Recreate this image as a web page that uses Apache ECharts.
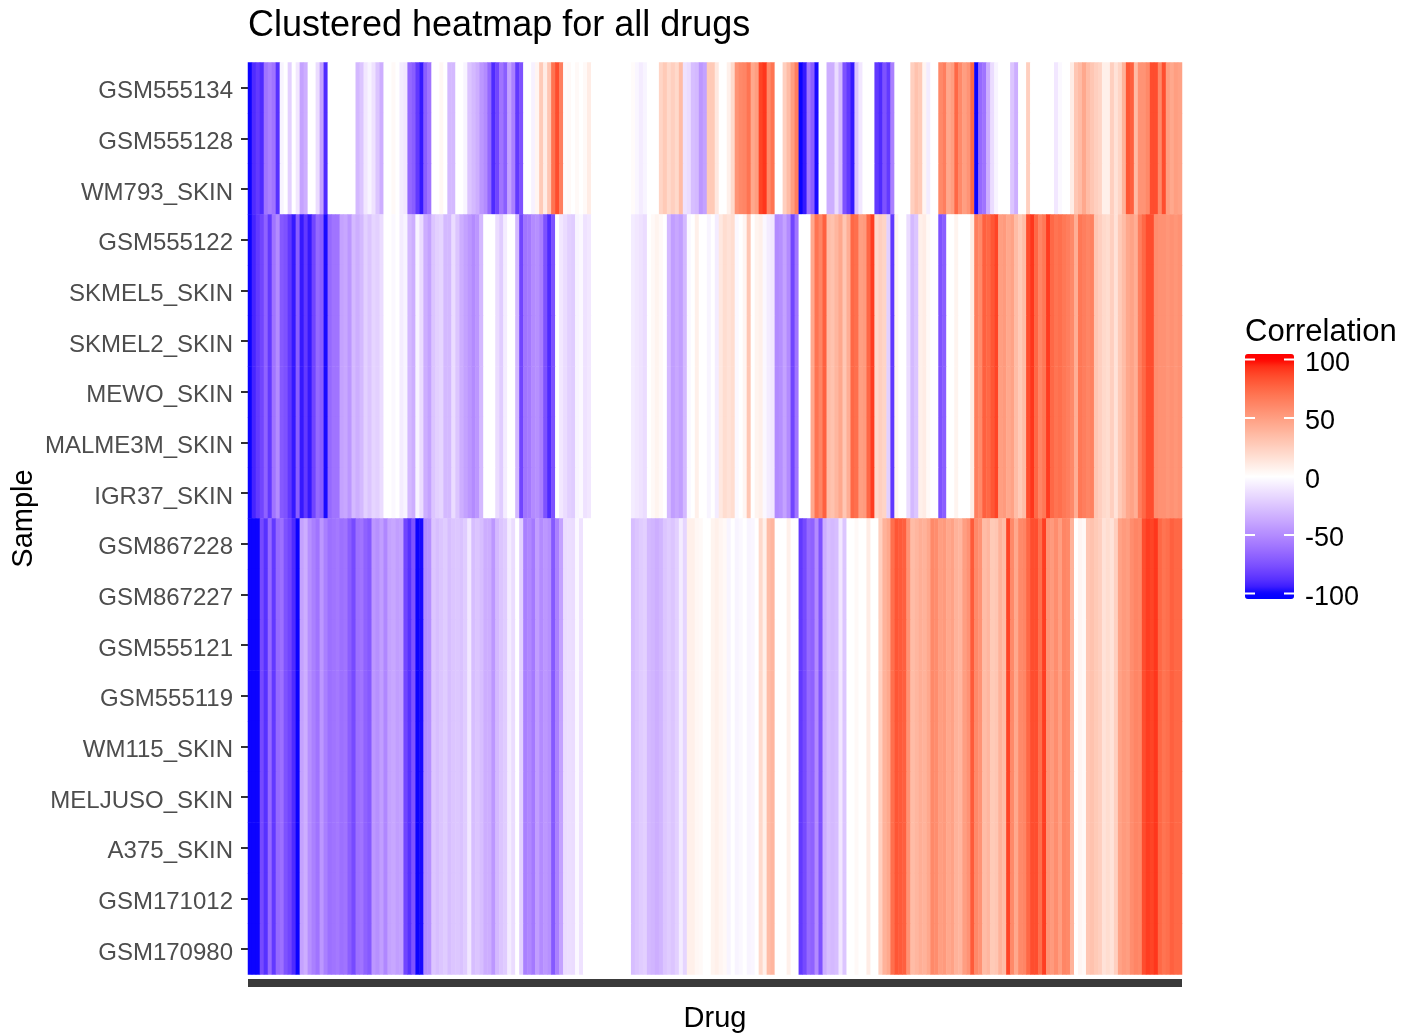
<!DOCTYPE html>
<html>
<head>
<meta charset="utf-8">
<style>html,body{margin:0;padding:0;background:#fff}#c{width:1406px;height:1036px}</style>
<script src="https://cdn.jsdelivr.net/npm/echarts@6/dist/echarts.min.js"></script>
</head>
<body>
<div id="c"></div>
<script>
const samples = ['GSM555134','GSM555128','WM793_SKIN','GSM555122','SKMEL5_SKIN','SKMEL2_SKIN','MEWO_SKIN','MALME3M_SKIN','IGR37_SKIN','GSM867228','GSM867227','GSM555121','GSM555119','WM115_SKIN','MELJUSO_SKIN','A375_SKIN','GSM171012','GSM170980'];
const rowCluster = [0,0,0,1,1,1,1,1,1,2,2,2,2,2,2,2,2,2];
const legendTicks = [-100,-50,0,50,100];

const cluster1 = [
-100,-90,-85,-90,-60,-55,-60,-88,-5,0,
-20,0,-10,-40,-35,0,0,-15,-40,-90,
0,0,0,0,0,0,0,-30,-25,-10,
-5,-12,-25,-35,0,0,3,0,-8,-10,
-65,-70,-85,-95,-70,-60,0,0,4,0,
-30,-30,0,0,-5,-25,-30,-35,-45,-50,
-65,-90,-80,-60,-70,-40,-55,-85,-75,0,
0,-6,5,28,10,30,70,85,65,2,
3,0,3,0,3,10,0,0,0,0,
0,0,0,0,0,0,2,-4,-8,-5,
0,0,0,22,28,20,25,20,35,-12,
-15,-28,-30,-45,-40,28,28,12,0,0,
8,20,55,60,62,70,45,50,88,92,
60,70,0,0,25,35,50,65,-100,-95,
-60,-70,-98,0,0,-35,-35,-15,-30,-75,
-85,-95,-25,-10,0,0,0,-85,-90,-75,
-85,-55,0,0,0,0,25,32,28,5,
-8,0,0,60,65,45,50,75,60,50,
55,75,-100,-65,-60,-35,-15,-5,0,0,
0,-25,-35,0,0,25,0,0,0,0,
0,0,-10,-3,0,0,10,30,35,45,
35,30,25,22,8,8,25,15,22,40,
82,78,35,55,55,60,85,85,60,85,
50,45,50,48];

const cluster2 = [
-100,-92,-85,-80,-68,-85,-60,-50,-72,-75,
-85,-95,-70,-95,-85,-95,-80,-65,-70,-98,
-65,-60,-60,-40,-38,-45,-30,-35,-30,-20,
-25,-18,-20,-15,0,0,-3,0,-8,-5,
-30,-35,-5,-15,-35,-40,-25,-20,-18,-30,
-30,-15,-25,-35,-40,-45,-50,-45,-30,0,
0,0,-15,-22,-8,0,0,-30,-80,-60,
-58,-50,-48,-55,-75,-90,-75,0,-10,-15,
-20,-22,-5,-3,-12,-10,0,0,0,0,
0,0,0,0,0,0,-8,-10,-12,-15,
0,3,6,3,0,-30,-42,-38,-42,-30,
-3,0,8,0,0,-5,0,-8,12,18,
15,18,-3,0,5,30,0,6,8,-3,
-8,-10,-50,-48,-40,-50,-80,-60,0,0,
0,45,70,62,78,35,32,38,45,30,
42,75,72,50,52,75,90,20,25,22,
-20,-85,5,0,0,-15,-30,-25,8,10,
3,0,0,-75,-70,0,0,6,0,0,
0,10,65,60,78,75,82,88,50,52,
45,48,35,28,35,85,92,75,62,68,
90,75,70,72,68,65,60,42,68,65,
62,64,30,25,20,18,25,15,28,35,
45,48,42,65,75,85,85,58,56,56,
54,56,54,56];

const cluster3 = [
-100,-100,-100,-78,-88,-65,-85,-65,-62,-75,
-80,-90,-100,-40,-35,-48,-55,-60,-45,-55,
-62,-60,-58,-62,-60,-70,-78,-62,-60,-68,
-72,-45,-48,-42,-52,-40,-38,-42,-40,-80,
-88,-75,-100,-98,-50,-48,-25,-28,-25,-22,
-28,-25,-24,-26,-22,-10,-28,-25,-28,-35,
-35,-45,-30,-25,-22,-8,-15,0,-20,-55,
-52,-58,-42,-50,-45,-48,-72,-55,-40,-15,
-14,-15,-3,-12,0,0,0,0,0,0,
0,0,0,0,0,0,-28,-25,-22,-20,
-30,-32,-35,-32,-25,-22,-25,-20,-8,-18,
8,8,4,3,0,0,6,8,5,3,
-5,0,-5,-3,0,-5,-4,0,20,8,
35,38,0,0,0,8,0,0,-85,-78,
-65,-68,-50,-75,-35,-28,-30,-28,-10,-25,
0,0,3,0,0,10,0,0,25,40,
45,72,82,80,78,55,35,38,42,40,
45,60,58,50,52,45,48,40,38,50,
55,80,60,55,35,38,28,30,40,35,
88,60,45,60,62,75,85,85,72,90,
55,52,58,50,62,60,40,0,5,3,
30,32,28,25,15,18,15,25,48,52,
50,58,62,60,85,90,88,92,75,70,
72,78,75,75];

const clusters = [cluster1, cluster2, cluster3];
const drugs = cluster1.map((_, i) => 'D' + (i + 1));
const cells = [];
samples.forEach((_, r) => drugs.forEach((_, c) => cells.push([c, r, clusters[rowCluster[r]][c]])));

// Diverging blue-white-red scale interpolated in Lab, as on the reference colour bar.
function labToHex(L, a, b) {
  const fy = (L + 16) / 116, fx = fy + a / 500, fz = fy - b / 200;
  const g = t => t > 6 / 29 ? t * t * t : 3 * (6 / 29) * (6 / 29) * (t - 4 / 29);
  const X = 0.95047 * g(fx), Y = g(fy), Z = 1.08883 * g(fz);
  const lin = [3.2406 * X - 1.5372 * Y - 0.4986 * Z, -0.9689 * X + 1.8758 * Y + 0.0415 * Z, 0.0557 * X - 0.204 * Y + 1.057 * Z];
  return '#' + lin.map(v => {
    v = Math.min(1, Math.max(0, v));
    const s = v <= 0.0031308 ? 12.92 * v : 1.055 * Math.pow(v, 1 / 2.4) - 0.055;
    return Math.round(s * 255).toString(16).padStart(2, '0');
  }).join('');
}
const scaleLimit = 104.7;
const stops = [];
for (let i = 0; i <= 40; i++) {
  const v = -scaleLimit + 2 * scaleLimit * i / 40;
  const t = Math.min(1, Math.abs(v) / 100);
  const end = v < 0 ? [32.3, 79.2, -107.9] : [53.24, 80.09, 67.2];
  stops.push(labToHex(100 + (end[0] - 100) * t, end[1] * t, end[2] * t));
}

const font = 'Liberation Sans';
const barLeft = 1245, barWidth = 49, barTick = 10;
const chart = echarts.init(document.getElementById('c'), null, {renderer: 'canvas'});
chart.setOption({
  animation: false,
  backgroundColor: '#fff',
  title: [
    {text: 'Clustered heatmap for all drugs', left: 248, top: 8, padding: 0,
     textStyle: {fontFamily: font, fontSize: 36, fontWeight: 'normal', color: '#000'}},
    {text: 'Correlation', left: barLeft, top: 317, padding: 0,
     textStyle: {fontFamily: font, fontSize: 31, fontWeight: 'normal', color: '#000'}}
  ],
  grid: [
    {left: 248, top: 62.5, width: 934, height: 912, outerBoundsMode: 'none'},
    {left: barLeft, top: 354, width: barWidth, height: 245, outerBoundsMode: 'none'}
  ],
  xAxis: [
    {type: 'category', gridIndex: 0, data: drugs, position: 'bottom', offset: 8,
     name: 'Drug', nameLocation: 'middle', nameGap: 22,
     nameTextStyle: {fontFamily: font, fontSize: 29, color: '#000'},
     axisLine: {show: true, lineStyle: {color: '#3a3a3a', width: 8, cap: 'butt'}},
     axisTick: {show: false}, axisLabel: {show: false}, splitLine: {show: false}},
    {type: 'value', gridIndex: 1, show: false, min: 0, max: 1}
  ],
  yAxis: [
    {type: 'category', gridIndex: 0, data: samples, inverse: true,
     name: 'Sample', nameLocation: 'middle', nameGap: 210, nameRotate: 90, nameMoveOverlap: false,
     nameTextStyle: {fontFamily: font, fontSize: 29, color: '#000'},
     axisLine: {show: false},
     axisTick: {show: true, alignWithLabel: true, length: 7, lineStyle: {color: '#333', width: 2}},
     axisLabel: {margin: 15, interval: 0, formatter: v => '{l|' + v + '}',
       rich: {l: {fontFamily: font, fontSize: 24, color: '#4d4d4d', padding: [8, 0, 0, 0]}}},
     splitLine: {show: false}},
    {type: 'value', gridIndex: 1, position: 'right', min: -scaleLimit, max: scaleLimit,
     axisLine: {show: false}, splitLine: {show: false}, axisTick: {show: false},
     axisLabel: {show: true, margin: 11, customValues: legendTicks, formatter: v => '{l|' + v + '}',
       rich: {l: {fontFamily: font, fontSize: 27, color: '#000', padding: [8, 0, 0, 0]}}}}
  ],
  visualMap: {
    type: 'continuous', seriesIndex: 0, min: -scaleLimit, max: scaleLimit,
    left: barLeft, top: 354, itemWidth: barWidth, itemHeight: 245, padding: 0,
    calculable: false, hoverLink: false, text: null, showLabel: false,
    inRange: {color: stops}, textStyle: {color: 'rgba(0,0,0,0)'}
  },
  series: [{
    type: 'heatmap', xAxisIndex: 0, yAxisIndex: 0, data: cells, progressive: 0,
    itemStyle: {borderWidth: 0}, emphasis: {disabled: true}, silent: true
  }]
});

// Colour-bar tick marks, placed through the legend axis scale.
const tickGraphics = [];
legendTicks.forEach(v => {
  const y = chart.convertToPixel({yAxisIndex: 1}, v);
  [[barLeft, barLeft + barTick], [barLeft + barWidth - barTick, barLeft + barWidth]].forEach(([x1, x2]) => {
    tickGraphics.push({type: 'line', z: 100, silent: true,
      shape: {x1, y1: y, x2, y2: y}, style: {stroke: '#fff', lineWidth: 2}});
  });
});
chart.setOption({graphic: tickGraphics});
</script>
</body>
</html>
